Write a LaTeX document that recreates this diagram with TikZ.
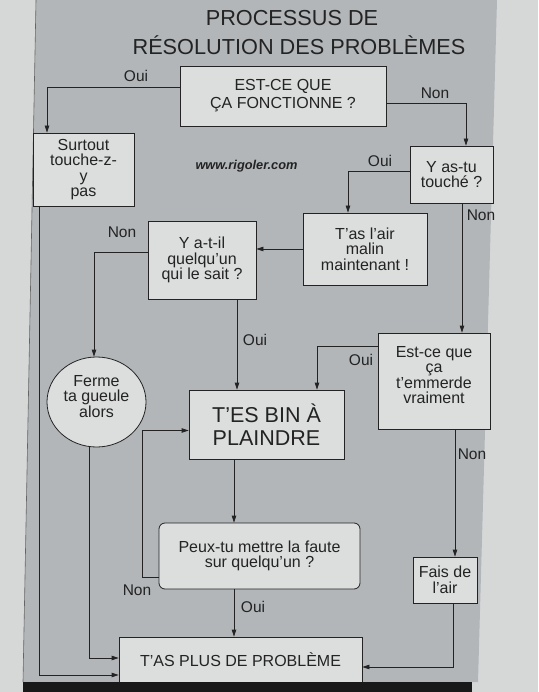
\documentclass[tikz,border=0pt]{standalone}
\usepackage{fontspec}
\setmainfont{Liberation Sans}
\usetikzlibrary{arrows.meta,shapes.geometric}
\definecolor{wall}{RGB}{214,216,216}
\definecolor{poster}{RGB}{178,182,185}
\definecolor{boxfill}{RGB}{220,221,221}
\definecolor{ink}{RGB}{35,35,35}
\tikzset{
  fbox/.style={draw=ink, line width=0.8pt, fill=boxfill, align=center, inner sep=1pt,
    text=ink, font=\fontsize{16}{15.5}\selectfont},
  lbl/.style={text=ink, font=\fontsize{15.5}{16}\selectfont, inner sep=0pt},
  ttl/.style={text=ink, font=\fontsize{21.7}{28}\selectfont, inner sep=0pt},
  arr/.style={draw=ink, line width=0.8pt, -{Triangle[length=7pt,width=4.5pt]}}
}
\begin{document}
\begin{tikzpicture}[x=1pt,y=-1pt]
\useasboundingbox (0,0) rectangle (538,692);
\fill[wall] (0,0) rectangle (538,692);
\fill[poster] (36,0) -- (497,0) -- (478,682) -- (23,682) -- cycle;
\draw[ink!70, line width=0.6pt] (36,0) -- (23,682);
% title
\node[ttl] (title1) at (292,18) {PROCESSUS DE};
\node[ttl] (title2) at (299,45) {RÉSOLUTION DES PROBLÈMES};
\node[text=ink, font=\bfseries\itshape\fontsize{12.8}{14}\selectfont] (www) at (246.5,166) {www.rigoler.com};
% boxes
\node[fbox, minimum width=206, minimum height=60] (q1) at (283,96) {EST-CE QUE\\[2.5pt]ÇA FONCTIONNE ?};
\node[fbox, minimum width=101, minimum height=73] (surtout) at (83.5,169.5) {Surtout\\touche-z-\\y\\pas};
\node[fbox, minimum width=83, minimum height=57] (astu) at (451.5,174.5) {Y as-tu\\touché ?};
\node[fbox, minimum width=124, minimum height=72] (malin) at (365,249) {T'as l'air\\malin\\maintenant !};
\node[fbox, minimum width=108, minimum height=78] (qui) at (202,260) {Y a-t-il\\quelqu'un\\qui le sait ?};
\node[fbox, ellipse, minimum width=99, minimum height=90, text depth=12pt] (ferme) at (96.5,402) {Ferme\\ta gueule\\alors};
\node[fbox, minimum width=155, minimum height=69, font=\fontsize{21.5}{23}\selectfont] (bin) at (266.5,424.5) {T'ES BIN À\\PLAINDRE};
\node[fbox, minimum width=112, minimum height=96, text depth=12pt] (emmerde) at (434,381) {Est-ce que\\ça\\t'emmerde\\vraiment};
\node[fbox, rounded corners=6pt, minimum width=201, minimum height=66] (peux) at (259.5,556) {Peux-tu mettre la faute\\sur quelqu'un ?};
\node[fbox, minimum width=64, minimum height=46] (fais) at (445,580) {Fais de\\l'air};
\node[fbox, minimum width=243, minimum height=46] (plus) at (240.5,660) {T'AS PLUS DE PROBLÈME};
% connectors
\draw[arr] ([yshift=9pt]q1.west) -| ([xshift=-36.5pt]surtout.north);
\draw[arr] ([yshift=-7pt]q1.east) -| ([xshift=14.5pt]astu.north);
\draw[arr] ([yshift=3.5pt]astu.west) -| ([xshift=-17pt]malin.north);
\draw[arr] ([xshift=10.5pt]astu.south) -- ([xshift=28pt]emmerde.north);
\draw[arr] (malin.west) -- (malin.west -| qui.east);
\draw[arr] ([yshift=8pt]qui.west) -| ([xshift=-2.5pt]ferme.north);
\draw[arr] ([xshift=35pt]qui.south) -- ([xshift=-29.5pt]bin.north);
\draw[arr] ([yshift=35pt]emmerde.west) -| ([xshift=50.5pt]bin.north);
\draw[arr] ([xshift=21pt]emmerde.south) -- ([xshift=10pt]fais.north);
\draw[arr] ([xshift=-32.5pt]bin.south) -- ([xshift=-25.5pt]peux.north);
\draw[arr] ([yshift=-21pt]peux.west) -- ++(-16,0) |- ([yshift=-6pt]bin.west);
\draw[arr] ([xshift=-25.5pt]peux.south) -- ([xshift=-6.5pt]plus.north);
\draw[arr] ([xshift=-7.5pt]ferme.south) |- ([yshift=2pt]plus.west);
\draw[arr] ([xshift=-44.5pt]surtout.south) |- ([yshift=-15pt]plus.west);
\draw[arr] ([xshift=8pt]fais.south) |- ([yshift=-7pt]plus.east);
% labels
\node[lbl] (l1) at (136,76) {Oui};
\node[lbl] (l2) at (435,93) {Non};
\node[lbl] (l3) at (380,161) {Oui};
\node[lbl] (l4) at (481,215) {Non};
\node[lbl] (l5) at (122,232) {Non};
\node[lbl] (l6) at (255,340) {Oui};
\node[lbl] (l7) at (361,360) {Oui};
\node[lbl] (l8) at (472,454) {Non};
\node[lbl] (l9) at (137,590) {Non};
\node[lbl] (l10) at (253,607) {Oui};
% bottom strip
\fill[black!90] (23,682) rectangle (472,692);
\end{tikzpicture}
\end{document}
